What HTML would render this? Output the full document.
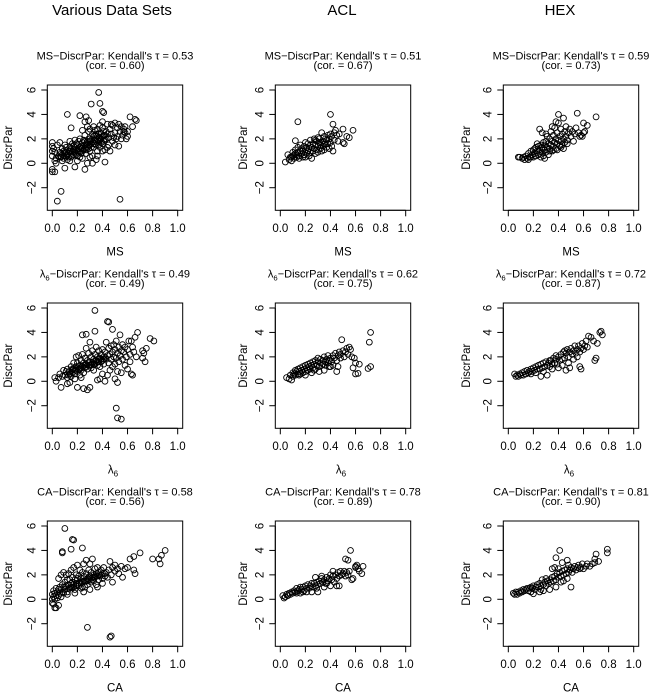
<!DOCTYPE html>
<html><head><meta charset="utf-8"><style>
html,body{margin:0;padding:0;background:#fff;}
svg{display:block;font-family:"Liberation Sans",sans-serif;}
</style></head><body>
<svg id="chart" width="652" height="694" viewBox="0 0 652 694" xmlns="http://www.w3.org/2000/svg">
<text x="112" y="15" font-size="15" text-anchor="middle">Various Data Sets</text>
<text x="342" y="15" font-size="15" text-anchor="middle">ACL</text>
<text x="560" y="15" font-size="15" text-anchor="middle">HEX</text>
</svg>
<script>
const xTicks = [0, 0.2, 0.4, 0.6, 0.8, 1.0];
const xTickLabels = ["0.0","0.2","0.4","0.6","0.8","1.0"];
const yTicks = [-2, 0, 2, 4, 6];
const yTickLabels = ["\u22122","0","2","4","6"];
const taus = ["0.53","0.51","0.59","0.49","0.62","0.72","0.58","0.78","0.81"];
const cors = ["0.60","0.67","0.73","0.49","0.75","0.87","0.56","0.89","0.90"];

const msVarious = [[0.37,5.8],[0.31,4.85],[0.38,4.9],[0.40,4.25],[0.41,4.15],[0.12,4.0],[0.22,3.9],[0.04,-3.1],[0.07,-2.3],[0.54,-2.95],[0.42,0.1],[0.26,-0.5],[0.62,3.8],[0.66,3.6],[0.64,3.0],[0.67,3.5],[0.0,-0.5],[0.0,-0.7],[0.02,-0.7],[0.0,1.7],[0.0,1.4],[0.0,1.0],[0.0,0.6],[0.32,0.0],[0.18,-0.3],[0.10,-0.4],
[0.03,0.4],[0.05,0.6],[0.06,0.9],[0.07,0.5],[0.08,0.7],[0.08,1.2],[0.09,0.4],[0.10,0.9],[0.10,1.5],[0.11,0.6],[0.12,1.1],[0.12,0.3],[0.13,0.8],[0.14,1.3],[0.14,1.8],[0.15,0.5],[0.16,1.0],[0.17,1.4],[0.17,0.7],[0.18,1.9],[0.19,1.1],[0.20,0.6],[0.20,1.5],[0.21,1.2],[0.22,0.9],[0.22,2.0],[0.23,1.4],[0.24,1.7],[0.24,0.4],[0.25,1.1],[0.26,2.3],[0.26,1.5],[0.27,0.8],[0.28,1.8],[0.28,1.3],[0.29,2.6],[0.30,1.0],[0.30,2.0],[0.31,1.6],[0.32,2.4],[0.32,0.6],[0.33,1.3],[0.34,1.9],[0.34,2.7],[0.35,1.5],[0.36,2.2],[0.36,1.0],[0.37,1.8],[0.38,2.5],[0.38,1.3],[0.39,2.0],[0.40,1.6],[0.40,2.9],[0.41,2.3],[0.42,1.1],[0.42,1.9],[0.43,2.6],[0.44,3.2],[0.45,2.1],[0.45,1.5],[0.46,2.8],[0.47,2.4],[0.48,3.1],[0.48,1.8],[0.50,2.5],[0.50,3.3],[0.51,2.0],[0.52,2.9],[0.53,1.4],[0.54,2.6],[0.55,3.0],[0.56,2.3],[0.57,2.8],[0.58,2.5],[0.59,2.0],[0.60,2.6],[0.58,3.0],[0.46,1.0],[0.35,0.3],[0.28,0.0],
[0.06,0.5],[0.07,0.8],[0.09,0.6],[0.09,1.0],[0.11,0.9],[0.11,1.3],[0.13,0.5],[0.13,1.0],[0.15,0.8],[0.15,1.2],[0.16,0.6],[0.16,1.6],[0.18,0.9],[0.18,1.3],[0.19,0.7],[0.19,1.6],[0.21,1.0],[0.21,1.8],[0.23,0.8],[0.23,1.2],[0.25,1.4],[0.25,1.9],[0.27,1.1],[0.27,1.6],[0.29,1.2],[0.29,2.0],[0.31,1.3],[0.31,1.9],[0.33,1.6],[0.33,2.2],[0.35,1.8],[0.35,2.4],[0.37,1.5],[0.37,2.1],[0.39,1.7],[0.39,2.4],[0.41,1.8],[0.41,2.6],[0.43,2.0],[0.44,2.4],[0.02,0.2],[0.02,0.9],[0.01,1.2],[0.04,1.5],[0.03,0.0],[0.06,1.7],[0.08,0.2],[0.14,0.2],[0.20,0.2],[0.22,0.5],[0.30,0.5],[0.36,0.6],[0.40,1.0],[0.44,1.3],[0.50,1.5],[0.52,2.2],[0.55,2.0],[0.47,3.2],[0.53,3.2],[0.57,2.6],[0.60,2.2],[0.49,2.1],[0.28,3.0],[0.30,2.8],[0.26,3.4],[0.27,3.8],[0.29,3.5],[0.15,2.9],[0.24,2.7],[0.36,2.8],[0.38,3.1],[0.40,3.4],[0.33,3.0],
[0.12,0.7],[0.14,1.0],[0.17,1.1],[0.20,1.0],[0.22,1.3],[0.24,1.2],[0.26,1.2],[0.28,1.5],[0.30,1.5],[0.32,1.8],[0.34,1.6],[0.36,1.9],[0.38,1.9],[0.40,2.2],[0.42,2.3],[0.24,1.0],[0.26,1.8],[0.30,1.8],[0.34,2.3],[0.37,2.4]];

const msAcl = [[0.14,3.4],[0.40,4.0],[0.42,3.2],[0.50,2.8],[0.58,2.7],[0.55,2.1],[0.53,2.2],[0.50,1.7],[0.51,1.6],[0.44,2.7],[0.47,2.4],[0.42,1.0],[0.12,1.85],
[0.04,0.1],[0.06,0.7],[0.07,0.3],[0.08,0.5],[0.09,0.2],[0.10,0.6],[0.10,0.9],[0.11,0.4],[0.12,0.8],[0.12,1.1],[0.13,0.5],[0.14,0.9],[0.14,1.3],[0.15,0.6],[0.16,1.0],[0.16,1.5],[0.17,0.8],[0.17,1.2],[0.18,0.5],[0.18,1.0],[0.19,1.4],[0.19,0.7],[0.20,1.1],[0.20,1.7],[0.21,0.8],[0.21,1.3],[0.22,1.0],[0.22,1.6],[0.23,0.6],[0.23,1.2],[0.24,1.9],[0.24,0.9],[0.25,1.3],[0.25,0.4],[0.26,1.0],[0.26,1.6],[0.27,2.0],[0.27,1.2],[0.28,0.8],[0.28,1.5],[0.29,1.1],[0.29,1.8],[0.30,1.4],[0.30,0.9],[0.31,1.7],[0.31,2.0],[0.32,1.2],[0.32,1.5],[0.33,2.5],[0.33,1.0],[0.34,1.8],[0.34,1.4],[0.35,2.2],[0.35,1.1],[0.36,1.6],[0.36,2.0],[0.37,1.3],[0.37,1.9],[0.38,2.3],[0.38,1.6],[0.39,1.2],[0.39,2.0],[0.40,1.7],[0.40,2.4],[0.41,1.4],[0.41,2.2],[0.43,1.9],[0.43,2.5],[0.45,2.3],[0.46,1.8],[0.15,0.4],[0.13,0.7],[0.11,0.7],[0.09,0.5],[0.20,0.5],[0.24,1.5],[0.28,1.9],[0.30,2.1],[0.33,1.7],[0.35,1.6]];

const msHex = [[0.70,3.8],[0.55,4.1],[0.40,4.0],[0.44,3.7],[0.63,3.1],[0.60,3.3],[0.25,2.8],[0.27,2.5],[0.58,2.3],[0.60,2.5],[0.59,2.2],[0.61,2.6],
[0.08,0.5],[0.09,0.5],[0.11,0.4],[0.12,0.5],[0.13,0.3],[0.14,0.6],[0.15,0.4],[0.16,0.8],[0.17,0.5],[0.18,1.0],[0.19,0.7],[0.20,0.5],[0.20,1.1],[0.21,0.8],[0.22,1.3],[0.22,0.6],[0.23,1.0],[0.24,1.4],[0.24,0.7],[0.25,1.1],[0.26,0.5],[0.26,1.5],[0.27,0.9],[0.27,1.3],[0.28,1.7],[0.28,0.6],[0.29,1.1],[0.29,1.5],[0.30,0.9],[0.30,1.8],[0.31,1.3],[0.31,2.2],[0.32,0.7],[0.32,1.6],[0.33,1.2],[0.33,2.0],[0.34,1.5],[0.34,2.6],[0.35,1.0],[0.35,1.8],[0.36,1.4],[0.36,2.3],[0.37,1.7],[0.37,2.9],[0.38,1.2],[0.38,2.0],[0.39,1.6],[0.39,2.5],[0.40,1.9],[0.40,3.3],[0.41,1.4],[0.41,2.2],[0.42,1.8],[0.42,2.8],[0.43,2.4],[0.43,1.5],[0.44,2.0],[0.45,2.6],[0.45,1.7],[0.46,2.2],[0.46,3.0],[0.47,1.9],[0.48,2.5],[0.49,2.8],[0.50,2.2],[0.51,2.6],[0.52,1.8],[0.53,2.4],[0.54,2.9],[0.56,2.5],[0.57,2.2],[0.38,3.4],[0.35,3.0],[0.30,2.4],[0.23,1.6],[0.21,1.2],[0.25,0.8],[0.28,1.2],[0.33,1.0],[0.36,1.1],[0.39,1.1],[0.42,1.3],[0.47,1.6],[0.44,1.2],[0.29,0.4],[0.18,0.5],[0.16,0.3]];

const l6Various = [[0.34,5.8],[0.44,4.9],[0.45,4.85],[0.48,4.25],[0.34,4.1],[0.24,3.8],[0.27,3.85],[0.51,-2.2],[0.52,-3.0],[0.55,-3.1],[0.81,3.3],[0.78,3.5],[0.68,4.0],[0.63,3.3],[0.72,2.5],[0.74,1.6],[0.72,1.9],[0.73,2.3],[0.75,2.7],[0.20,-0.5],[0.25,-0.6],[0.28,-0.7],[0.30,-0.5],[0.07,-0.5],[0.50,0.2],[0.52,-0.1],[0.64,0.5],[0.36,0.1],[0.38,0.2],[0.12,-0.2],[0.14,-0.1],[0.02,0.3],[0.03,0.0],
[0.05,0.3],[0.06,0.6],[0.08,0.4],[0.09,0.9],[0.10,0.5],[0.11,0.8],[0.12,1.0],[0.13,0.5],[0.14,0.8],[0.15,1.2],[0.15,0.4],[0.16,0.7],[0.17,1.0],[0.17,1.5],[0.18,0.6],[0.19,1.2],[0.19,2.0],[0.20,0.8],[0.20,1.5],[0.21,1.0],[0.21,2.1],[0.22,1.3],[0.22,0.5],[0.23,1.7],[0.23,0.9],[0.24,1.2],[0.24,2.2],[0.25,1.5],[0.25,0.7],[0.26,1.1],[0.26,1.9],[0.27,1.4],[0.27,2.7],[0.28,1.0],[0.28,1.7],[0.29,2.3],[0.29,1.3],[0.30,1.6],[0.30,3.2],[0.31,1.1],[0.31,2.0],[0.32,1.5],[0.32,2.5],[0.33,1.8],[0.33,0.9],[0.34,1.4],[0.34,2.2],[0.35,1.7],[0.35,2.8],[0.36,1.3],[0.36,2.0],[0.37,1.6],[0.37,2.5],[0.38,1.9],[0.38,1.2],[0.39,2.2],[0.40,1.7],[0.40,2.6],[0.41,1.4],[0.41,2.0],[0.42,2.4],[0.43,1.8],[0.43,3.2],[0.44,2.1],[0.44,0.5],[0.45,2.7],[0.45,1.5],[0.46,2.2],[0.46,0.9],[0.47,2.9],[0.47,1.8],[0.48,2.4],[0.48,1.2],[0.49,2.0],[0.49,3.0],[0.50,2.6],[0.50,1.4],[0.51,1.9],[0.51,3.3],[0.52,2.3],[0.52,0.8],[0.53,2.8],[0.53,1.6],[0.54,2.1],[0.54,3.8],[0.55,2.5],[0.55,0.7],[0.56,1.8],[0.56,3.0],[0.57,2.4],[0.58,1.3],[0.58,2.8],[0.59,2.0],[0.60,2.6],[0.60,1.0],[0.61,3.3],[0.62,2.2],[0.63,0.6],[0.64,2.8],[0.65,2.4],[0.66,3.6],[0.67,2.0],[0.62,1.6],[0.12,0.3],[0.16,1.0],[0.18,0.9],[0.22,1.0],[0.26,1.3],[0.30,1.3],[0.33,1.6],[0.36,1.6],[0.39,1.8],[0.42,1.9],[0.18,0.2],[0.23,0.3],[0.40,0.6],[0.42,0.0],
[0.14,0.6],[0.16,0.9],[0.19,0.9],[0.21,1.2],[0.23,1.1],[0.25,1.3],[0.27,1.2],[0.29,1.5],[0.31,1.4],[0.33,1.4],[0.35,1.5],[0.37,1.8],[0.39,1.6],[0.41,1.8]];

const l6Acl = [[0.49,3.4],[0.72,4.0],[0.71,3.2],[0.72,1.2],[0.70,1.05],[0.60,0.6],[0.62,0.65],[0.63,1.4],[0.58,1.1],[0.59,1.9],[0.56,2.6],[0.55,2.8],[0.45,0.8],[0.40,1.2],[0.60,1.5],[0.57,2.0],
[0.05,0.3],[0.07,0.2],[0.08,0.5],[0.09,0.1],[0.10,0.7],[0.10,0.4],[0.11,0.6],[0.12,0.9],[0.12,0.5],[0.13,0.8],[0.14,0.6],[0.14,1.0],[0.15,0.8],[0.16,1.1],[0.16,0.6],[0.17,0.9],[0.18,1.2],[0.18,0.7],[0.19,1.0],[0.20,1.3],[0.20,0.8],[0.21,1.1],[0.22,1.4],[0.22,0.9],[0.23,1.2],[0.24,1.5],[0.24,1.0],[0.25,1.3],[0.26,1.6],[0.26,1.1],[0.27,1.4],[0.28,1.7],[0.28,1.0],[0.29,1.3],[0.30,1.6],[0.30,1.9],[0.31,1.2],[0.32,1.5],[0.32,1.8],[0.33,1.3],[0.34,1.7],[0.34,1.4],[0.35,2.0],[0.36,1.6],[0.36,1.3],[0.37,1.8],[0.38,1.5],[0.38,2.1],[0.39,1.7],[0.40,1.9],[0.41,1.6],[0.42,2.1],[0.42,1.3],[0.43,1.9],[0.44,2.3],[0.45,1.7],[0.46,2.1],[0.47,2.4],[0.48,1.9],[0.48,2.2],[0.50,2.5],[0.51,2.0],[0.52,2.4],[0.53,2.7],[0.54,2.2],[0.46,1.2],[0.35,0.9],[0.31,0.8],[0.25,0.7],[0.20,0.5],[0.15,0.5],[0.27,0.9],[0.39,1.2]];

const l6Hex = [[0.74,4.1],[0.75,3.8],[0.71,3.1],[0.70,1.9],[0.69,1.7],[0.57,1.2],[0.58,1.0],[0.49,1.1],[0.46,0.9],[0.26,0.4],[0.31,0.5],[0.73,4.0],[0.66,3.6],[0.68,3.3],[0.64,3.7],
[0.05,0.6],[0.06,0.4],[0.07,0.5],[0.08,0.4],[0.09,0.6],[0.10,0.5],[0.11,0.7],[0.12,0.5],[0.13,0.8],[0.14,0.6],[0.15,0.9],[0.16,0.7],[0.17,0.8],[0.18,1.0],[0.19,0.8],[0.20,1.1],[0.21,0.9],[0.22,1.2],[0.23,1.0],[0.24,1.3],[0.25,1.0],[0.26,1.4],[0.27,1.1],[0.28,1.5],[0.29,1.2],[0.30,1.6],[0.31,1.3],[0.32,1.5],[0.33,1.2],[0.34,1.7],[0.35,1.4],[0.36,1.9],[0.37,1.5],[0.38,1.8],[0.39,1.4],[0.40,2.0],[0.41,1.7],[0.42,2.2],[0.43,1.8],[0.44,2.4],[0.45,1.9],[0.46,2.3],[0.47,2.6],[0.48,2.0],[0.49,2.4],[0.50,2.7],[0.51,2.2],[0.52,2.5],[0.53,2.9],[0.54,2.3],[0.55,2.6],[0.56,2.9],[0.57,2.4],[0.58,2.7],[0.59,3.1],[0.60,2.6],[0.61,2.9],[0.62,3.3],[0.63,2.8],[0.40,1.1],[0.43,1.3],[0.48,1.5],[0.52,1.8],[0.55,2.0],[0.35,1.0],[0.28,0.8],[0.22,0.7],[0.18,0.6],[0.33,1.7],[0.38,2.1],[0.45,2.5]];

const caVarious = [[0.10,5.8],[0.16,4.9],[0.17,4.85],[0.24,4.2],[0.15,4.1],[0.08,3.8],[0.08,3.9],[0.28,-2.3],[0.46,-3.1],[0.47,-3.0],[0.90,4.0],[0.87,3.6],[0.85,3.3],[0.86,2.9],[0.80,3.3],[0.70,3.8],[0.65,3.5],[0.62,3.3],[0.66,2.1],[0.65,2.4],[0.56,1.8],[0.48,1.4],[0.05,-0.5],[0.02,-0.7],[0.03,-0.7],[0.60,2.6],[0.58,2.5],
[0.00,0.0],[0.00,0.4],[0.00,-0.3],[0.01,0.2],[0.01,0.7],[0.01,-0.4],[0.02,0.5],[0.02,0.0],[0.03,0.3],[0.03,0.9],[0.04,0.6],[0.04,0.1],[0.05,0.8],[0.05,1.7],[0.06,0.5],[0.06,1.0],[0.07,0.8],[0.07,2.0],[0.08,1.2],[0.08,0.6],[0.09,2.2],[0.09,1.0],[0.10,1.4],[0.10,0.8],[0.11,2.0],[0.11,1.1],[0.12,1.6],[0.12,0.6],[0.13,2.1],[0.13,1.2],[0.14,0.9],[0.14,1.6],[0.15,2.4],[0.15,1.3],[0.16,1.0],[0.16,1.8],[0.17,2.6],[0.17,1.2],[0.18,1.6],[0.18,0.8],[0.19,2.0],[0.19,1.3],[0.20,1.7],[0.20,2.8],[0.21,1.1],[0.21,1.9],[0.22,1.4],[0.22,2.4],[0.23,1.7],[0.23,0.9],[0.24,2.2],[0.24,1.4],[0.25,1.9],[0.25,2.9],[0.26,1.5],[0.26,1.0],[0.27,2.1],[0.27,3.2],[0.28,1.7],[0.28,1.2],[0.29,2.4],[0.29,1.6],[0.30,1.9],[0.30,2.9],[0.31,1.4],[0.31,2.2],[0.32,1.8],[0.32,3.3],[0.33,2.0],[0.33,1.5],[0.34,2.5],[0.34,1.8],[0.35,2.1],[0.35,1.2],[0.36,1.9],[0.36,2.6],[0.37,1.6],[0.37,2.2],[0.38,1.9],[0.39,2.4],[0.40,1.7],[0.40,2.1],[0.41,2.6],[0.42,1.9],[0.43,2.2],[0.44,1.8],[0.45,2.4],[0.46,3.1],[0.47,2.0],[0.48,2.6],[0.50,2.3],[0.50,2.8],[0.52,2.5],[0.53,2.1],[0.55,2.7],[0.25,0.6],[0.18,0.5],[0.12,0.4],[0.30,0.8],[0.36,1.0],[0.40,1.3],[0.05,0.3],[0.07,0.2],[0.09,0.5],[0.24,1.0],[0.28,1.5],[0.32,1.6],[0.20,1.2],[0.16,1.4],
[0.13,0.9],[0.15,1.0],[0.17,1.0],[0.19,1.1],[0.21,1.3],[0.23,1.3],[0.25,1.5],[0.27,1.5],[0.29,1.8],[0.31,1.7],[0.33,1.8],[0.35,1.9],[0.37,2.0],[0.39,2.0],[0.42,2.1]];

const caAcl = [[0.56,4.0],[0.52,3.3],[0.54,3.2],[0.60,2.7],[0.61,2.8],[0.65,2.1],[0.66,2.7],[0.57,1.6],[0.58,1.7],[0.45,1.1],[0.47,1.1],[0.30,0.6],[0.62,2.5],[0.63,2.3],[0.60,2.6],
[0.02,0.3],[0.03,0.1],[0.04,0.2],[0.05,0.4],[0.06,0.3],[0.07,0.5],[0.08,0.4],[0.09,0.6],[0.10,0.5],[0.11,0.7],[0.12,0.6],[0.13,0.9],[0.14,0.7],[0.15,0.8],[0.16,1.0],[0.16,0.5],[0.17,0.8],[0.18,1.0],[0.19,0.7],[0.20,1.1],[0.21,0.9],[0.22,1.2],[0.23,0.9],[0.24,1.1],[0.25,1.3],[0.25,0.6],[0.26,1.0],[0.27,1.3],[0.28,1.1],[0.28,1.8],[0.29,1.4],[0.30,1.2],[0.31,1.5],[0.32,1.3],[0.33,1.7],[0.33,1.9],[0.34,1.4],[0.35,1.6],[0.36,1.3],[0.37,1.8],[0.38,1.5],[0.39,1.7],[0.40,2.0],[0.41,1.6],[0.42,1.9],[0.42,2.3],[0.43,1.4],[0.44,2.0],[0.45,1.7],[0.46,2.2],[0.47,1.9],[0.48,2.3],[0.49,2.0],[0.50,2.1],[0.51,2.3],[0.52,1.9],[0.53,2.2],[0.54,2.0],[0.55,2.3],[0.40,1.1],[0.35,1.0],[0.21,0.6],[0.29,0.9],[0.37,1.3],[0.18,0.6],[0.13,0.5]];

const caHex = [[0.41,4.0],[0.38,3.4],[0.43,3.0],[0.47,3.2],[0.79,4.1],[0.79,3.8],[0.70,3.7],[0.69,3.3],[0.72,3.1],[0.50,1.0],[0.25,0.6],[0.20,0.45],[0.35,2.5],[0.37,2.6],[0.48,2.8],
[0.04,0.5],[0.05,0.4],[0.06,0.6],[0.07,0.4],[0.08,0.6],[0.09,0.5],[0.10,0.7],[0.11,0.6],[0.12,0.8],[0.13,0.7],[0.14,0.8],[0.15,0.9],[0.16,0.7],[0.17,0.9],[0.18,0.6],[0.18,1.0],[0.19,0.9],[0.20,1.1],[0.21,0.8],[0.22,1.0],[0.23,1.2],[0.24,1.0],[0.25,1.3],[0.26,1.1],[0.27,1.6],[0.28,1.2],[0.29,1.4],[0.30,1.1],[0.31,1.5],[0.32,1.3],[0.33,1.6],[0.34,1.4],[0.35,1.8],[0.36,1.5],[0.37,1.9],[0.38,1.6],[0.39,2.1],[0.40,1.8],[0.41,2.2],[0.42,1.9],[0.43,2.3],[0.44,2.0],[0.45,2.4],[0.46,2.1],[0.47,2.5],[0.48,2.2],[0.49,2.4],[0.50,2.6],[0.51,2.2],[0.52,2.5],[0.53,2.7],[0.54,2.4],[0.55,2.6],[0.56,2.8],[0.57,2.5],[0.58,2.6],[0.59,2.9],[0.60,2.5],[0.62,2.7],[0.63,2.9],[0.65,2.7],[0.67,2.9],[0.69,3.0],[0.38,1.0],[0.33,0.8],[0.28,0.7],[0.44,1.5],[0.47,1.7],[0.42,1.4],[0.30,1.7],[0.40,2.5],[0.26,0.8]];

const panelData = [msVarious, msAcl, msHex, l6Various, l6Acl, l6Hex, caVarious, caAcl, caHex];
const prefixes = ["MS","MS","MS","λ6","λ6","λ6","CA","CA","CA"];

const NS = "http://www.w3.org/2000/svg";
const svg = document.getElementById("chart");
const XMIN = -0.04, XMAX = 1.04, YMIN = -3.85, YMAX = 6.41;
const BOXW = 135.4, BOXH = 125.3;
const ylabX = [8, 15, 10];
function mk(tag, attrs, parent) {
  const e = document.createElementNS(NS, tag);
  for (const k in attrs) e.setAttribute(k, attrs[k]);
  (parent || svg).appendChild(e);
  return e;
}
function addLambda(parent, x, y, fs, anchor, rest) {
  const t = mk("text", {x: x, y: y, "font-size": fs, "text-anchor": anchor}, parent);
  const a = document.createElementNS(NS, "tspan"); a.textContent = "λ"; t.appendChild(a);
  const b = document.createElementNS(NS, "tspan"); b.setAttribute("font-size", fs * 0.7); b.setAttribute("dy", 3); b.textContent = "6"; t.appendChild(b);
  if (rest) { const c = document.createElementNS(NS, "tspan"); c.setAttribute("dy", -3); c.textContent = rest; t.appendChild(c); }
  return t;
}
for (let i = 0; i < 9; i++) {
  const r = Math.floor(i / 3), c = i % 3;
  const L = 47.3 + 228 * c, T = 85 + 218 * r;
  const sx = v => L + (v - XMIN) / (XMAX - XMIN) * BOXW;
  const sy = v => T + (YMAX - v) / (YMAX - YMIN) * BOXH;
  const g = mk("g", {});
  
  
  const cx = L + BOXW / 2;
  let t1;
  const rest = "\u2212DiscrPar: Kendall's \u03c4 = " + taus[i];
  if (prefixes[i] === "λ6") t1 = addLambda(g, cx, T - 25.5, 11, "middle", rest);
  else { t1 = mk("text", {x: cx, y: T - 25.5, "font-size": 11, "text-anchor": "middle"}, g); t1.textContent = prefixes[i] + rest; }
  
  
  const t2 = mk("text", {x: cx, y: T - 16, "font-size": 11, "text-anchor": "middle"}, g);
  t2.textContent = "(cor. = " + cors[i] + ")";
  
  
  const box = mk("rect", {x: L, y: T, width: BOXW, height: BOXH, fill: "none", stroke: "#000", "stroke-width": 1}, g);
  
  
  const xa = mk("g", {}, g);
  
  
  mk("line", {x1: sx(xTicks[0]), x2: sx(xTicks[xTicks.length - 1]), y1: T + BOXH, y2: T + BOXH, stroke: "#000"}, xa);
  xTicks.forEach((v, k) => {
    mk("line", {x1: sx(v), x2: sx(v), y1: T + BOXH, y2: T + BOXH + 6, stroke: "#000"}, xa);
    const tl = mk("text", {x: sx(v), y: T + BOXH + 21.5, "font-size": 11.5, "text-anchor": "middle"}, xa);
    tl.textContent = xTickLabels[k];
    
    
  });
  const ya = mk("g", {}, g);
  
  
  mk("line", {x1: L, x2: L, y1: sy(yTicks[0]), y2: sy(yTicks[yTicks.length - 1]), stroke: "#000"}, ya);
  yTicks.forEach((v, k) => {
    mk("line", {x1: L - 6, x2: L, y1: sy(v), y2: sy(v), stroke: "#000"}, ya);
    const tx = L - 12, ty = sy(v);
    const tl = mk("text", {x: tx, y: ty, "font-size": 11.5, "text-anchor": "middle", transform: "rotate(-90 " + tx + " " + ty + ")"}, ya);
    tl.textContent = yTickLabels[k];
    
    
  });
  const lx = 228 * c + ylabX[c] + 4, ly = T + BOXH / 2;
  const yl = mk("text", {x: lx, y: ly, "font-size": 11.5, "text-anchor": "middle", transform: "rotate(-90 " + lx + " " + ly + ")"}, g);
  yl.textContent = "DiscrPar";
  
  
  let xl;
  if (prefixes[i] === "λ6") xl = addLambda(g, cx - 2, T + BOXH + 45, 11.5, "middle", null);
  else { xl = mk("text", {x: cx, y: T + BOXH + 45, "font-size": 11.5, "text-anchor": "middle"}, g); xl.textContent = prefixes[i]; }
  
  
  const pts = mk("g", {fill: "none", stroke: "#000", "stroke-width": 0.9}, g);
  
  
  panelData[i].forEach(p => {
    const cpt = mk("circle", {cx: sx(p[0]), cy: sy(p[1]), r: 2.9}, pts);
    
    
  });
}
</script>
</body></html>
